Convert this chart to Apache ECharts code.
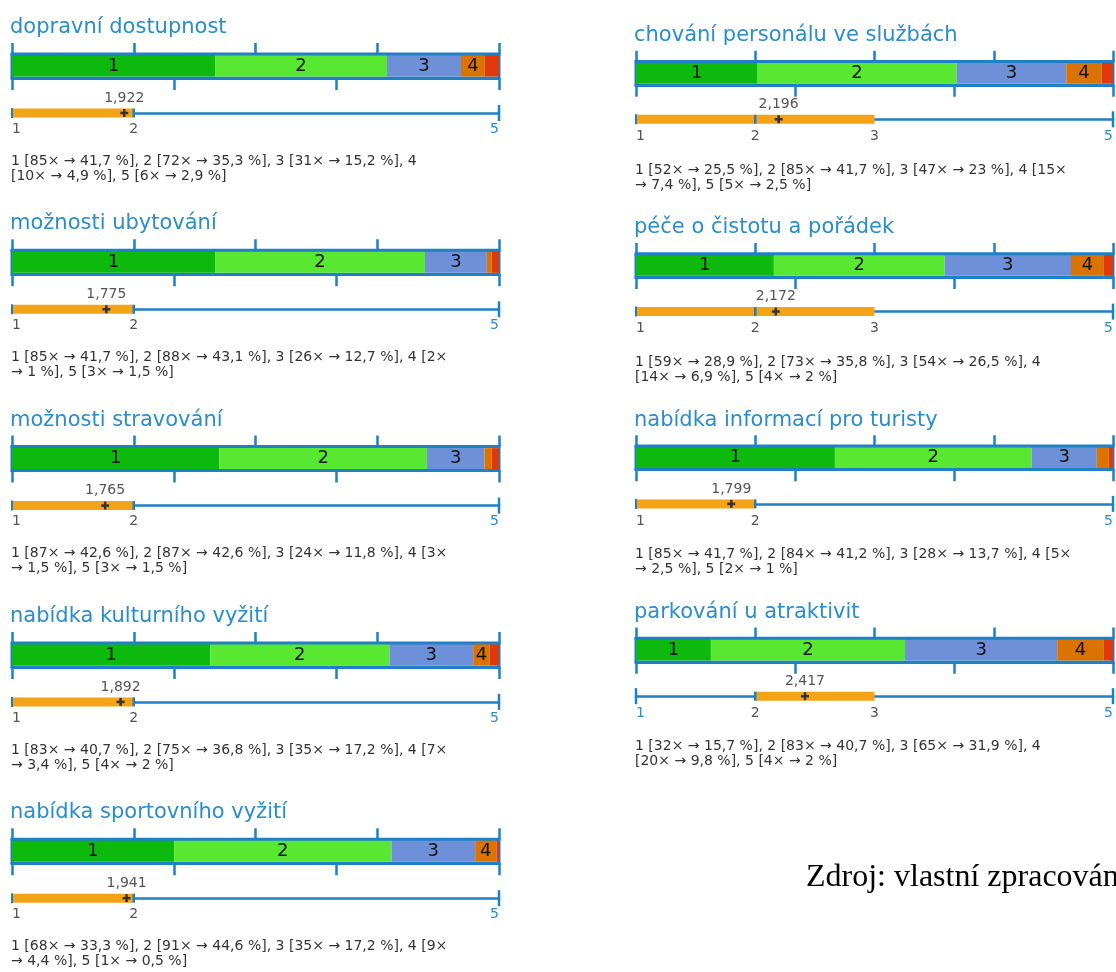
<!DOCTYPE html>
<html>
<head>
<meta charset="utf-8">
<script src="https://cdn.jsdelivr.net/npm/echarts@6/dist/echarts.min.js"></script>
<style>
html,body{margin:0;padding:0;background:#fff;}
#c{width:1116px;height:972px;}
</style>
</head>
<body>
<div id="c"></div>
<script>
// ---- data ----
const titles = [
  'dopravní dostupnost',
  'možnosti ubytování',
  'možnosti stravování',
  'nabídka kulturního vyžití',
  'nabídka sportovního vyžití',
  'chování personálu ve službách',
  'péče o čistotu a pořádek',
  'nabídka informací pro turisty',
  'parkování u atraktivit'
];
const ratingLabels = ['1', '2', '3', '4', '5'];
const counts = [
  [85, 72, 31, 10, 6],
  [85, 88, 26, 2, 3],
  [87, 87, 24, 3, 3],
  [83, 75, 35, 7, 4],
  [68, 91, 35, 9, 1],
  [52, 85, 47, 15, 5],
  [59, 73, 54, 14, 4],
  [85, 84, 28, 5, 2],
  [32, 83, 65, 20, 4]
];
const percents = [
  [41.7, 35.3, 15.2, 4.9, 2.9],
  [41.7, 43.1, 12.7, 1, 1.5],
  [42.6, 42.6, 11.8, 1.5, 1.5],
  [40.7, 36.8, 17.2, 3.4, 2],
  [33.3, 44.6, 17.2, 4.4, 0.5],
  [25.5, 41.7, 23, 7.4, 2.5],
  [28.9, 35.8, 26.5, 6.9, 2],
  [41.7, 41.2, 13.7, 2.5, 1],
  [15.7, 40.7, 31.9, 9.8, 2]
];
const means = [1.922, 1.775, 1.765, 1.892, 1.941, 2.196, 2.172, 1.799, 2.417];
// [lower quartile, median, upper quartile]
const quartiles = [
  [1, 2, 2], [1, 2, 2], [1, 2, 2], [1, 2, 2], [1, 2, 2],
  [1, 2, 3], [1, 2, 3], [1, 2, 2], [2, 2, 3]
];
const scaleMin = 1, scaleMax = 5;
const sourceNote = 'Zdroj: vlastní zpracování';

// ---- styles ----
const BLUE = '#1f80c6';
const TBLUE = '#2a8dcc';
const ORANGE = '#f5a316';
const segColors = ['#0cb90c', '#58e832', '#6e90d8', '#db7300', '#e0380a'];
const FONT = '"DejaVu Sans", Verdana, sans-serif';
const TEXT_FONT = '14px ' + FONT;
const WRAP_LIMIT = 442;

const fmtNum = v => String(v).replace('.', ',');

const measureCtx = document.createElement('canvas').getContext('2d');
measureCtx.font = TEXT_FONT;
function wrapWords(str, limit) {
  const words = str.split(' ');
  const lines = [];
  let cur = '';
  words.forEach(wd => {
    const cand = cur ? cur + ' ' + wd : wd;
    if (cur && measureCtx.measureText(cand).width > limit) { lines.push(cur); cur = wd; }
    else cur = cand;
  });
  lines.push(cur);
  return lines.join('\n');
}

const grid = [], xAxis = [], yAxis = [], series = [], graphic = [];

titles.forEach((title, i) => {
  const col = i < 5 ? 0 : 1;
  const row = col ? i - 5 : i;
  const s = col ? 0.98 : 1;
  const x0 = col ? 636 : 12;
  const w = col ? 477 : 487;
  const ty = col ? 35 + row * 192.3 : 27 + row * 196.3;

  // title
  graphic.push({
    type: 'text', left: x0 - 2, top: ty - 10, silent: true,
    style: { text: title, fill: TBLUE, font: '21px ' + FONT }
  });

  // stacked distribution bar
  const gb = grid.length;
  grid.push({ left: x0, top: ty + 27 * s, width: w, height: 24 * s, show: true,
    borderColor: BLUE, borderWidth: 3, backgroundColor: 'transparent' });
  const xTop = xAxis.length;
  xAxis.push({ gridIndex: gb, type: 'value', position: 'top', min: 0, max: 100, interval: 25,
    axisLine: { show: true, onZero: false, lineStyle: { color: BLUE, width: 3 } },
    axisTick: { show: true, length: 11 * s, lineStyle: { color: BLUE, width: 2.5 } },
    axisLabel: { show: false }, splitLine: { show: false } });
  xAxis.push({ gridIndex: gb, type: 'value', position: 'bottom', min: 0, max: 3, interval: 1,
    axisLine: { show: true, onZero: false, lineStyle: { color: BLUE, width: 3 } },
    axisTick: { show: true, length: 12 * s, lineStyle: { color: BLUE, width: 2.5 } },
    axisLabel: { show: false }, splitLine: { show: false } });
  const yb = yAxis.length;
  yAxis.push({ gridIndex: gb, type: 'category', data: [''], show: false });
  percents[i].forEach((p, k) => {
    series.push({
      type: 'bar', xAxisIndex: xTop, yAxisIndex: yb, stack: 'dist' + i,
      barWidth: 21 * s, data: [p], silent: true,
      itemStyle: { color: segColors[k] },
      label: { show: p >= 3, position: 'inside', formatter: ratingLabels[k],
        fontSize: 18, fontFamily: FONT, color: '#111' }
    });
  });

  // 1..5 scale with quartile box and mean
  const sy = ty + 86 * s;
  const gs = grid.length;
  grid.push({ left: x0, top: sy - 20, width: w, height: 20 });
  const q = quartiles[i];
  const labelVals = Array.from(new Set([scaleMin, q[0], q[1], q[2], scaleMax])).sort((a, b) => a - b);
  const xs = xAxis.length;
  xAxis.push({ gridIndex: gs, type: 'value', position: 'bottom', min: scaleMin, max: scaleMax, interval: 1,
    axisLine: { show: true, onZero: false, lineStyle: { color: BLUE, width: 2.5 } },
    axisTick: { show: false },
    splitLine: { show: false },
    axisLabel: {
      show: true, customValues: labelVals, margin: col ? 10 : 9,
      alignMinLabel: 'left', alignMaxLabel: 'right',
      formatter: v => (q.indexOf(v) >= 0 ? '{g|' : '{b|') + v + '}',
      rich: {
        g: { color: '#555', fontSize: 14, fontFamily: FONT },
        b: { color: TBLUE, fontSize: 14, fontFamily: FONT }
      }
    } });
  const ys = yAxis.length;
  yAxis.push({ gridIndex: gs, type: 'value', min: 0, max: 1, show: false });
  series.push({
    type: 'custom', xAxisIndex: xs, yAxisIndex: ys, silent: true, clip: false, z: 5,
    data: [[q[0], q[1], q[2], means[i], 0]],
    encode: { x: [0, 1, 2, 3], y: 4 },
    renderItem: function (params, api) {
      const q1 = api.value(0), md = api.value(1), q3 = api.value(2), mn = api.value(3);
      const c = v => api.coord([v, 0]);
      const y = c(scaleMin)[1];
      const tick = (v, h, lw) => ({ type: 'line',
        shape: { x1: c(v)[0], y1: y - h, x2: c(v)[0], y2: y + h },
        style: { stroke: BLUE, lineWidth: lw } });
      const ch = [];
      if (q1 > scaleMin) ch.push(tick(scaleMin, 8, 2.5));
      ch.push(tick(scaleMax, 8, 2.5));
      ch.push({ type: 'rect', shape: { x: c(q1)[0], y: y - 4.5, width: c(q3)[0] - c(q1)[0], height: 9 },
        style: { fill: ORANGE } });
      if (q1 === scaleMin) ch.push(tick(scaleMin, 5, 2));
      ch.push(tick(md, 4.5, 2.5));
      const m = c(mn);
      ch.push({ type: 'line', shape: { x1: m[0] - 4, y1: y, x2: m[0] + 4, y2: y }, style: { stroke: '#333', lineWidth: 2.5 } });
      ch.push({ type: 'line', shape: { x1: m[0], y1: y - 4, x2: m[0], y2: y + 4 }, style: { stroke: '#333', lineWidth: 2.5 } });
      ch.push({ type: 'text', x: m[0], y: y - 15,
        style: { text: mn.toFixed(3).replace('.', ','), fill: '#555', font: '14px ' + FONT,
          align: 'center', verticalAlign: 'middle' } });
      return { type: 'group', children: ch };
    }
  });

  // frequency text
  const txt = counts[i].map((n, k) => ratingLabels[k] + ' [' + n + '× → ' + fmtNum(percents[i][k]) + ' %]').join(', ');
  graphic.push({
    type: 'text', left: x0 - 1, top: ty + (col ? 130 : 126.5) * s, silent: true,
    style: { text: wrapWords(txt, WRAP_LIMIT), fill: '#333', font: TEXT_FONT, lineHeight: 15 }
  });
});

graphic.push({
  type: 'text', left: 806, top: 862, silent: true,
  style: { text: sourceNote, fill: '#000', font: '32px "Liberation Serif", "Times New Roman", serif' }
});

const chart = echarts.init(document.getElementById('c'), null, { renderer: 'canvas' });
chart.setOption({
  animation: false,
  backgroundColor: '#fff',
  grid, xAxis, yAxis, series, graphic
});
</script>
</body>
</html>
